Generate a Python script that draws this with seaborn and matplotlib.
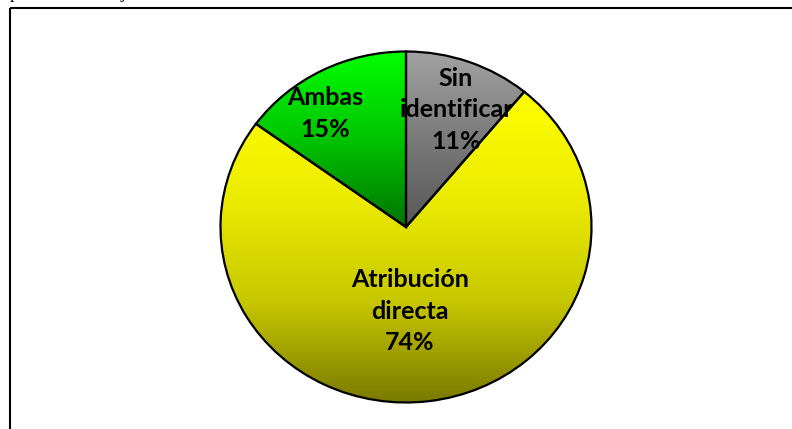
import numpy as np
import matplotlib
matplotlib.use("Agg")
import matplotlib.pyplot as plt
import seaborn as sns
from matplotlib.colors import LinearSegmentedColormap
from matplotlib.patches import Rectangle

# ---- data ----
categories = ["Sin\nidentificar", "Atribución\ndirecta", "Ambas"]
values = [11, 74, 15]
label_pos = [(0.27, 0.667), (0.022, -0.479), (-0.437, 0.647)]

# gradient stops (top -> bottom) per slice
grad_stops = [
    ["#a2a2a2", "#7a7a7a", "#575757"],
    ["#ffff00", "#ecec00", "#c8c800", "#787800"],
    ["#00ff00", "#00c400", "#007400"],
]

sns.set_theme(style="white")
plt.rcParams["font.family"] = ["Lato", "DejaVu Sans"]

W, H = 792, 429
fig = plt.figure(figsize=(W / 100, H / 100), dpi=100)
fig.patch.set_facecolor("white")

# outer frame (partially outside the image)
frame = Rectangle((10 / W, 1 - 7.7 / H), 2, -2, transform=fig.transFigure,
                  fill=False, edgecolor="black", linewidth=1.5, clip_on=False)
fig.patches.append(frame)

# fragments of the text line above the frame
fig.text(14 / W, 1 + 2.0 / H, "p", family=["Liberation Serif"], fontsize=13,
         va="baseline", ha="center", color="black")
fig.text(123 / W, 1 + 2.0 / H, "j", family=["Liberation Serif"], fontsize=13,
         va="baseline", ha="center", color="black")

cx, cy, rx, ry = 406, 227, 185.5, 175.5
ax = fig.add_axes([(cx - rx) / W, (H - cy - ry) / H, 2 * rx / W, 2 * ry / H])

wedges, _ = ax.pie(values, startangle=90, counterclock=False, radius=1,
                   wedgeprops=dict(edgecolor="black", linewidth=1.6),
                   colors=["none"] * len(values))
ax.set_aspect("auto")
ax.axis("off")

for w, stops in zip(wedges, grad_stops):
    w.set_clip_on(False)
    verts = w.get_path().vertices
    y0, y1 = verts[:, 1].min(), verts[:, 1].max()
    x0, x1 = verts[:, 0].min(), verts[:, 0].max()
    cmap = LinearSegmentedColormap.from_list("g", stops)
    grad = np.linspace(0, 1, 256).reshape(-1, 1)
    im = ax.imshow(grad, cmap=cmap, extent=(x0, x1, y0, y1), origin="upper",
                   aspect="auto", zorder=2, interpolation="bilinear")
    im.set_clip_path(w)
    w.set_facecolor("none")
    w.set_zorder(3)

ax.set_xlim(-1, 1)
ax.set_ylim(-1, 1)
ax.set_aspect("auto")

for name, v, (tx, ty) in zip(categories, values, label_pos):
    ax.text(tx, ty, f"{name}\n{v}%", ha="center", va="center",
            fontsize=18, fontweight="bold", color="black",
            linespacing=1.45, zorder=5)

fig.savefig("out.png", dpi=100, facecolor="white")
